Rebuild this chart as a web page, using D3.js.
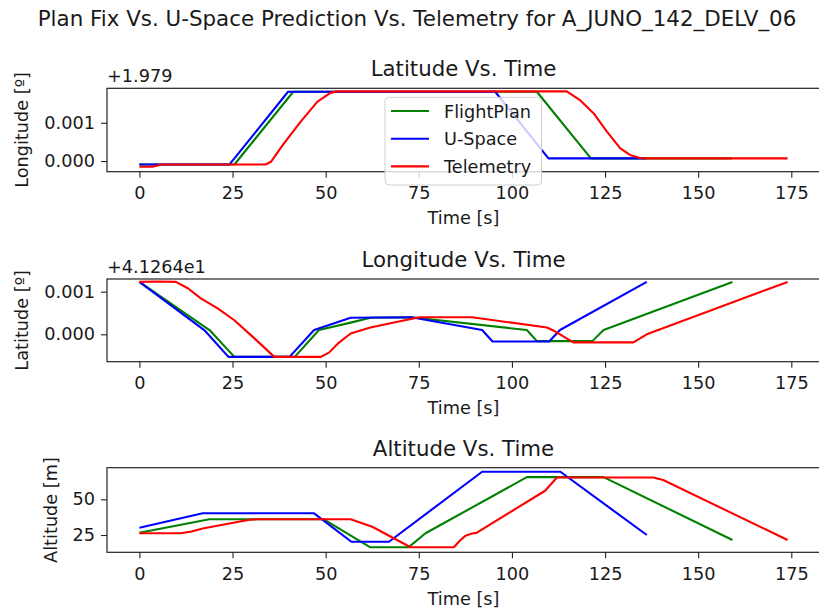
<!DOCTYPE html>
<html><head><meta charset="utf-8">
<script src="https://cdn.jsdelivr.net/npm/d3@7"></script>
<style>body{margin:0;background:#fff;} text{font-family:"DejaVu Sans";fill:#1a1a1a;}</style>
</head><body><svg id="c" width="819" height="611"></svg>
<script>
const timeTicks = [0,25,50,75,100,125,150,175];
const seriesNames = ["FlightPlan","U-Space","Telemetry"];
const seriesColors = ["green","blue","red"];
const mainTitle = "Plan Fix Vs. U-Space Prediction Vs. Telemetry for A_JUNO_142_DELV_06";
const panelTitles = ["Latitude Vs. Time","Longitude Vs. Time","Altitude Vs. Time"];
const yLabels = ["Longitude [º]","Latitude [º]","Altitude [m]"];
const offsetLabels = ["+1.979","+4.1264e1",""];
const yTicks1 = [0, 0.001];
const yTicks2 = [0, 0.001];
const yTicks3 = [25, 50];

// Panel 1 values (relative to offset +1.979)
const p1FlightPlan = [[0,-0.00009],[25.5,-0.00009],[41.3,0.00181],[106.7,0.00181],[121.2,0.00007],[159,0.00007]];
const p1USpace = [[0,-0.00009],[24.2,-0.00009],[39.9,0.00181],[95.5,0.00181],[109.8,0.00007],[136,0.00007]];
const p1Telemetry = [[0,-0.00015],[3.5,-0.00015],[6,-0.00009],[33.9,-0.00009],[35.3,-0.00002],[38.8,0.00046],[43.3,0.00103],[47.8,0.00155],[51.3,0.00178],[53,0.00182],[114.7,0.00182],[118.3,0.00159],[121.9,0.00125],[125.5,0.00077],[129.1,0.00033],[131.7,0.00016],[134.4,0.00008],[136,0.00007],[174,0.00007]];

// Panel 2 values (relative to offset +41.264)
const p2FlightPlan = [[0,0.00123],[19,0.000085],[25.5,-0.00053],[41.7,-0.00053],[48.2,0.0001],[57,0.00028],[62,0.00039],[73,0.0004],[104,0.0001],[106.7,-0.00016],[121.6,-0.00016],[124.6,0.0001],[159.2,0.00123]];
const p2USpace = [[0,0.00123],[17.4,0.0001],[23.9,-0.00053],[40.3,-0.00053],[46.9,0.0001],[56.7,0.00039],[73,0.0004],[92,0.0001],[94.8,-0.00017],[110,-0.00017],[112.9,0.0001],[136.2,0.00123]];
const p2Telemetry = [[0,0.00123],[5,0.00124],[9.8,0.00123],[13,0.00108],[16.5,0.000845],[21,0.00061],[25.4,0.000336],[30.8,-0.00009],[36.2,-0.00053],[48.7,-0.00053],[50.9,-0.00043],[53.5,-0.0002],[56.7,0.00002],[62,0.00016],[68,0.00027],[75.2,0.0004],[89.3,0.0004],[109.4,0.00016],[111.1,0.00009],[116.5,-0.00019],[132.6,-0.00019],[136.2,0.0],[174,0.00123]];

// Panel 3 values (altitude, m)
const p3FlightPlan = [[0,26.6],[18.8,36],[49.5,36],[62,16.4],[72.3,16.5],[76.8,26.2],[104,65.5],[124.6,65.5],[159.2,21.5]];
const p3USpace = [[0,30.1],[17,40.2],[46.9,40.2],[56.9,20.3],[67,20.3],[92,69.3],[113,69.3],[136.2,25]];
const p3Telemetry = [[0,26.2],[11.2,26.2],[14,27.5],[17,29.5],[22,32],[27,34.5],[30,35.8],[32,36],[56.7,36],[62.5,30.8],[72.8,16.4],[84.4,16.4],[86,21],[87.5,24.5],[89.3,26],[90.5,26.5],[108.9,56],[112.1,65.3],[138,65.3],[140.6,63.5],[174,21.5]];

const svg = d3.select("#c");
const FS = 17.7;

svg.append("text").attr("x", 417).attr("y", 26).attr("text-anchor","middle")
  .style("font-size","21.4px").text(mainTitle);

const xDomain = [-8.7, 182.7];
const xRange = [107, 820];

const panels = [
  {top:88.3, bottom:171.7, yDomain:[-0.000279, 0.0019], ticks:yTicks1, fmt:d3.format(".3f"),
   data:[p1FlightPlan,p1USpace,p1Telemetry], ylabelX:28},
  {top:279, bottom:361.7, yDomain:[-0.000643, 0.001298], ticks:yTicks2, fmt:d3.format(".3f"),
   data:[p2FlightPlan,p2USpace,p2Telemetry], ylabelX:28},
  {top:467.7, bottom:552.3, yDomain:[12.89, 72.13], ticks:yTicks3, fmt:d3.format("d"),
   data:[p3FlightPlan,p3USpace,p3Telemetry], ylabelX:57}
];

panels.forEach((p, i) => {
  const x = d3.scaleLinear().domain(xDomain).range(xRange);
  const y = d3.scaleLinear().domain(p.yDomain).range([p.bottom, p.top]);
  const g = svg.append("g");

  const line = d3.line().x(d => x(d[0])).y(d => y(d[1]));
  p.data.forEach((s, k) => {
    g.append("path").datum(s).attr("d", line).attr("fill","none")
      .attr("stroke", seriesColors[k]).attr("stroke-width", 2.1)
      .attr("stroke-linejoin","round").attr("stroke-linecap","butt");
  });

  const xa = g.append("g").attr("transform", `translate(0,${p.bottom})`)
    .call(d3.axisBottom(x).tickValues(timeTicks).tickSize(6).tickPadding(9).tickFormat(d3.format("d")));
  xa.select(".domain").remove();
  xa.selectAll("text").style("font-size", FS+"px").style("font-family","DejaVu Sans");
  xa.selectAll("line").attr("stroke","#222").attr("stroke-width",1.1);

  const ya = g.append("g").attr("transform", `translate(${xRange[0]},0)`)
    .call(d3.axisLeft(y).tickValues(p.ticks).tickSize(6).tickPadding(6).tickFormat(p.fmt));
  ya.select(".domain").remove();
  ya.selectAll("text").style("font-size", FS+"px").style("font-family","DejaVu Sans");
  ya.selectAll("line").attr("stroke","#222").attr("stroke-width",1.1);

  g.append("rect").attr("x", xRange[0]).attr("y", p.top)
    .attr("width", xRange[1]-xRange[0]).attr("height", p.bottom-p.top)
    .attr("fill","none").attr("stroke","#222").attr("stroke-width",1.2);

  g.append("text").attr("x", (xRange[0]+xRange[1])/2).attr("y", p.top - 12)
    .attr("text-anchor","middle").style("font-size","21.3px").text(panelTitles[i]);

  if (offsetLabels[i]) {
    g.append("text").attr("x", xRange[0]).attr("y", p.top - 6)
      .style("font-size", FS+"px").text(offsetLabels[i]);
  }

  g.append("text").attr("x", (xRange[0]+xRange[1])/2).attr("y", p.bottom + 52.5)
    .attr("text-anchor","middle").style("font-size", FS+"px").text("Time [s]");

  g.append("text").attr("transform", `translate(${p.ylabelX},${(p.top+p.bottom)/2}) rotate(-90)`)
    .attr("text-anchor","middle").style("font-size", FS+"px").text(yLabels[i]);

  if (i === 0) {
    const lg = g.append("g");
    lg.append("rect").attr("x",385).attr("y",97.3).attr("width",156.5).attr("height",87.7)
      .attr("rx",4).attr("fill","white").attr("fill-opacity",0.8)
      .attr("stroke","#d0d0d0").attr("stroke-width",1);
    seriesNames.forEach((n, k) => {
      const yy = 111 + k*27.7;
      lg.append("line").attr("x1",391).attr("x2",429).attr("y1",yy).attr("y2",yy)
        .attr("stroke", seriesColors[k]).attr("stroke-width",2.1);
      lg.append("text").attr("x",444).attr("y",yy+6.5).style("font-size",FS+"px").text(n);
    });
  }
});
</script></body></html>
